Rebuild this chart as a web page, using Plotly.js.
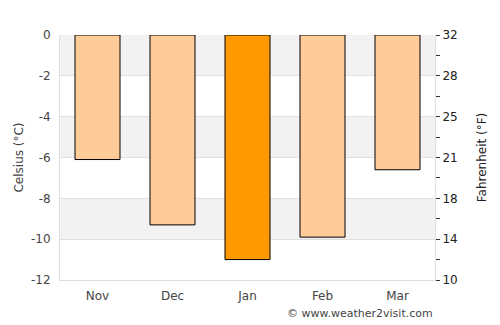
<!DOCTYPE html>
<html>
<head>
<meta charset="utf-8">
<script src="https://cdn.plot.ly/plotly-3.0.1.min.js"></script>
<style>html,body{margin:0;padding:0;background:#fff;}#chart{width:500px;height:325px;}</style>
</head>
<body>
<div id="chart"></div>
<script>
const months = ["Nov", "Dec", "Jan", "Feb", "Mar"];
const celsius = [-6.1, -9.3, -11.0, -9.9, -6.6];
const barColors = ["#ffcc99", "#ffcc99", "#ff9900", "#ffcc99", "#ffcc99"];
const cTicks = [0, -2, -4, -6, -8, -10, -12];
const fLabels = ["32", "28", "25", "21", "18", "14", "10"];

const toF = c => c * 9 / 5 + 32;

// right axis ticks at every 1 °C, labels at every 2 °C
const fTickVals = [];
const fTickText = [];
for (let c = 0; c >= -12; c--) {
  fTickVals.push(toF(c));
  const i = cTicks.indexOf(c);
  fTickText.push(i >= 0 ? fLabels[i] : "");
}

const shapes = [];
for (let i = 0; i < cTicks.length - 1; i++) {
  if (i % 2 === 0) {
    shapes.push({type: "rect", xref: "paper", yref: "y", x0: 0, x1: 1,
      y0: cTicks[i], y1: cTicks[i + 1], fillcolor: "#f2f2f2", line: {width: 0}, layer: "below"});
  }
}

const data = [
  {type: "bar", x: months, y: celsius, width: 0.6,
   marker: {color: barColors, line: {color: "#000", width: 1}},
   hoverinfo: "none"},
  {type: "scatter", x: months, y: celsius.map(toF), yaxis: "y2", mode: "markers",
   marker: {opacity: 0}, hoverinfo: "none", showlegend: false}
];

const font = {family: "DejaVu Sans, sans-serif", size: 12, color: "#444"};
const layout = {
  width: 500, height: 325,
  margin: {l: 60, r: 65, t: 35, b: 45},
  paper_bgcolor: "#fff", plot_bgcolor: "rgba(0,0,0,0)",
  showlegend: false,
  font: font,
  shapes: shapes,
  xaxis: {showgrid: false, zeroline: false, showline: true, linecolor: "#ddd", linewidth: 1,
    ticks: "outside", ticklen: 5, tickcolor: "rgba(0,0,0,0)", tickfont: {size: 12, color: "#444"}},
  yaxis: {range: [-12, 0], tickvals: cTicks, ticktext: cTicks.map(String),
    showgrid: true, gridcolor: "#e0e0e0", gridwidth: 1, zeroline: false,
    showline: true, linecolor: "#ddd", linewidth: 1, ticks: "outside", ticklen: 6,
    tickcolor: "rgba(0,0,0,0)",
    tickfont: {size: 12, color: "#444"},
    title: {text: "Celsius (°C)", font: {size: 12, color: "#444"}, standoff: 4}},
  yaxis2: {overlaying: "y", side: "right", range: [toF(-12), toF(0)],
    tickmode: "array", tickvals: fTickVals, ticktext: fTickText,
    showgrid: false, zeroline: false, showline: true, linecolor: "#ddd", linewidth: 1,
    ticks: "outside", ticklen: 4, tickcolor: "#333", tickwidth: 1,
    tickfont: {size: 12, color: "#222"},
    title: {text: "Fahrenheit (°F)", font: {size: 12, color: "#222"}, standoff: 20}},
  annotations: [{xref: "paper", yref: "paper", x: 1, y: 0, yshift: -33, xanchor: "right", yanchor: "middle",
    text: "© www.weather2visit.com", showarrow: false, font: {size: 11, color: "#444"}}]
};

Plotly.newPlot("chart", data, layout, {staticPlot: true, displayModeBar: false});
</script>
</body>
</html>
